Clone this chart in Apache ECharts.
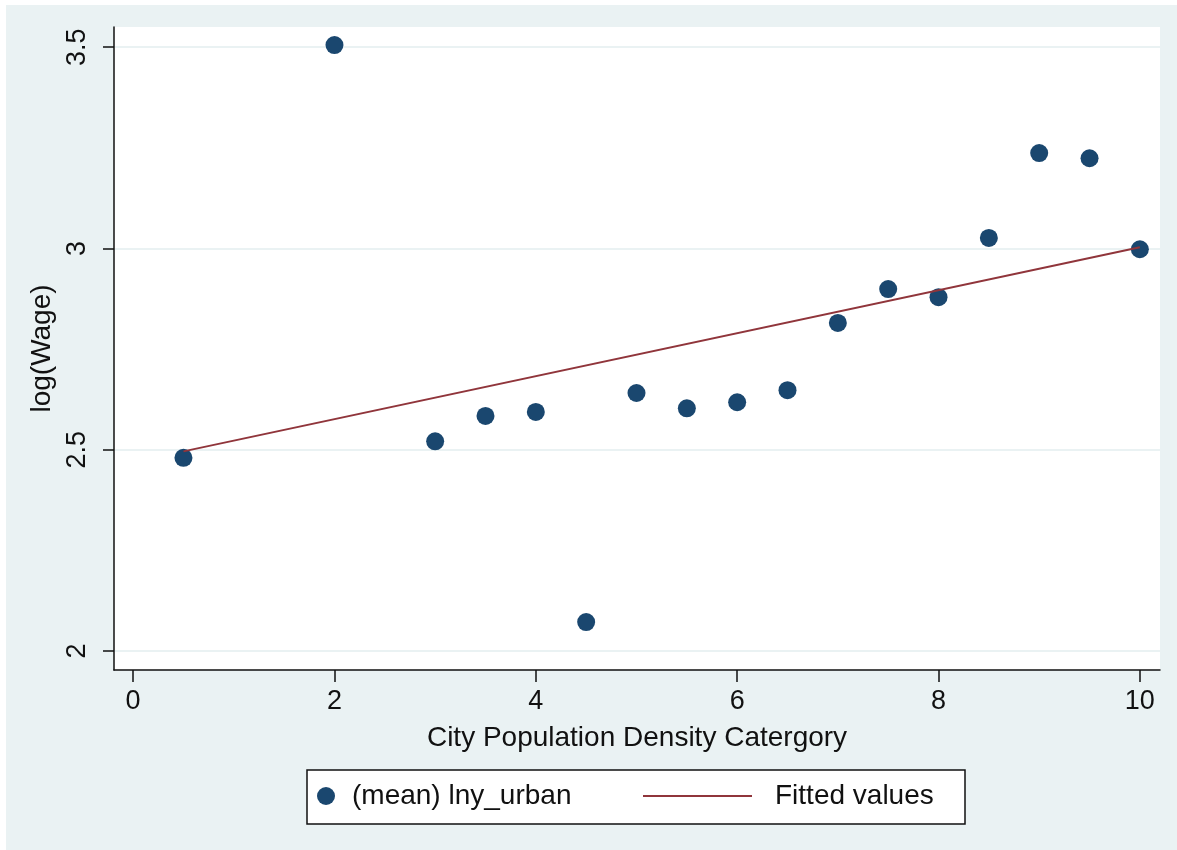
<!DOCTYPE html>
<html>
<head>
<meta charset="utf-8">
<script src="https://cdn.jsdelivr.net/npm/echarts@6/dist/echarts.min.js"></script>
<style>
  html, body { margin: 0; padding: 0; background: #fff; }
  #chart { width: 1177px; height: 850px; }
</style>
</head>
<body>
<div id="chart"></div>
<script>
// density category and mean log wage per category
var densityCat = [0.5, 2, 3, 3.5, 4, 4.5, 5, 5.5, 6, 6.5, 7, 7.5, 8, 8.5, 9, 9.5, 10];
var meanLnWage = [2.48, 3.505, 2.521, 2.584, 2.594, 2.072, 2.641, 2.603, 2.618, 2.648, 2.815, 2.899, 2.879, 3.026, 3.237, 3.224, 2.998];
// fitted line end points
var fitX = [0.5, 10];
var fitY = [2.496, 3.003];
var xTicks = [0, 2, 4, 6, 8, 10];
var yTicks = [2, 2.5, 3, 3.5];

var FONT = '"Liberation Sans", Arial, sans-serif';

var scatterData = densityCat.map(function (x, i) { return [x, meanLnWage[i]]; });
var fitData = fitX.map(function (x, i) { return [x, fitY[i]]; });

var myChart = echarts.init(document.getElementById('chart'));
var option = {
    backgroundColor: '#eaf2f3',
    animation: false,
    textStyle: { fontFamily: FONT },
    graphic: [
        { type: 'rect', z: 0, shape: { x: 0, y: 0, width: 6, height: 850 }, style: { fill: '#fff' } },
        { type: 'rect', z: 0, shape: { x: 0, y: 0, width: 1177, height: 5 }, style: { fill: '#fff' } },
        {
            type: 'rect', z: 0,
            shape: { x: 307, y: 770, width: 658, height: 54 },
            style: { fill: '#fff', stroke: '#111', lineWidth: 1.5 }
        }
    ],
    grid: {
        left: 114, right: 17, top: 27, bottom: 180,
        show: true, backgroundColor: '#fff', borderWidth: 0
    },
    legend: [
        {
            data: ['(mean) lny_urban'],
            left: 317, top: 782, padding: 0,
            itemWidth: 18, itemHeight: 18,
            textStyle: { fontSize: 28, color: '#111', fontFamily: FONT, padding: [0, 0, 0, 12] }
        },
        {
            data: [{ name: 'Fitted values', icon: 'rect' }],
            left: 643, top: 782, padding: 0,
            itemWidth: 109, itemHeight: 2,
            textStyle: { fontSize: 28, color: '#111', fontFamily: FONT, padding: [0, 0, 0, 18] }
        }
    ],
    xAxis: {
        type: 'value',
        min: -0.19, max: 10.2,
        name: 'City Population Density Catergory',
        nameLocation: 'middle',
        nameGap: 54,
        nameTextStyle: { fontSize: 28, color: '#111', fontFamily: FONT },
        axisLine: { show: true, onZero: false, lineStyle: { color: '#111', width: 1.5 } },
        axisTick: { show: true, length: 12, customValues: xTicks, lineStyle: { color: '#111', width: 1.5 } },
        axisLabel: { customValues: xTicks, fontSize: 27, color: '#111', margin: 18, fontFamily: FONT },
        splitLine: { show: false }
    },
    yAxis: {
        type: 'value',
        min: 1.953, max: 3.55,
        name: 'log(Wage)',
        nameLocation: 'middle',
        nameGap: 55,
        nameRotate: 90,
        nameTextStyle: { fontSize: 28, color: '#111', fontFamily: FONT },
        axisLine: { show: true, onZero: false, lineStyle: { color: '#111', width: 1.5 } },
        axisTick: { show: true, length: 11, customValues: yTicks, lineStyle: { color: '#111', width: 1.5 } },
        axisLabel: {
            customValues: yTicks, rotate: 90, fontSize: 27, color: '#111', margin: 23, fontFamily: FONT,
            formatter: function (v) { return String(v); }
        },
        splitLine: { show: true, lineStyle: { color: '#eaf2f3', width: 2 } }
    },
    series: [
        {
            name: '(mean) lny_urban',
            type: 'scatter',
            symbol: 'circle',
            symbolSize: 18,
            itemStyle: { color: '#1a476f', opacity: 1 },
            data: scatterData,
            z: 3
        },
        {
            name: 'Fitted values',
            type: 'line',
            symbol: 'none',
            lineStyle: { color: '#90353b', width: 2 },
            itemStyle: { color: '#90353b' },
            data: fitData,
            z: 4
        }
    ]
};
myChart.setOption(option, true);
</script>
</body>
</html>
